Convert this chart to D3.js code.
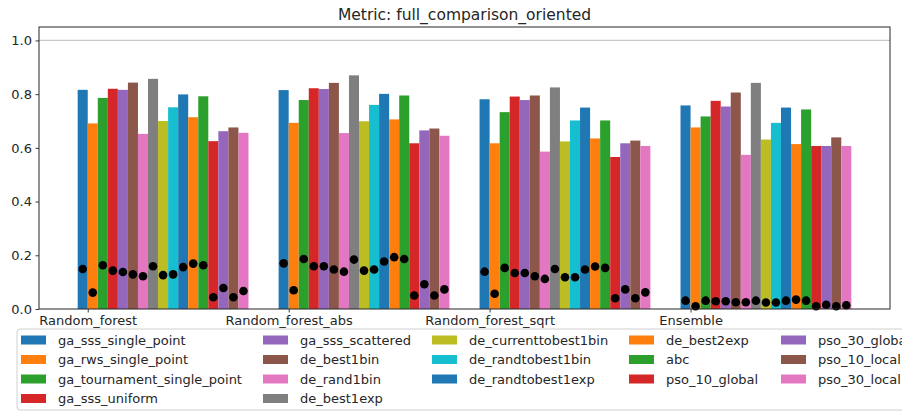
<!DOCTYPE html>
<html>
<head>
<meta charset="utf-8">
<script src="https://cdn.jsdelivr.net/npm/d3@7"></script>
<style>
  html, body { margin: 0; padding: 0; background: #fff; }
  svg { display: block; font-family: "DejaVu Sans", sans-serif; }
</style>
</head>
<body>
<svg id="chart" width="902" height="412"></svg>
<script>
// Models compared on the x axis
const categories = ["Random_forest", "Random_forest_abs", "Random_forest_sqrt", "Ensemble"];

// Optimisation methods (one bar per method in each group)
const methods = [
  "ga_sss_single_point", "ga_rws_single_point", "ga_tournament_single_point", "ga_sss_uniform",
  "ga_sss_scattered", "de_best1bin", "de_rand1bin", "de_best1exp",
  "de_currenttobest1bin", "de_randtobest1bin", "de_randtobest1exp",
  "de_best2exp", "abc", "pso_10_global",
  "pso_30_global", "pso_10_local", "pso_30_local"
];

// Bar heights: metric value per method, one array per model
const randomForest     = [0.816, 0.691, 0.786, 0.820, 0.816, 0.843, 0.652, 0.857, 0.700, 0.751, 0.799, 0.714, 0.792, 0.625, 0.662, 0.676, 0.656];
const randomForestAbs  = [0.815, 0.693, 0.778, 0.822, 0.819, 0.842, 0.655, 0.870, 0.699, 0.760, 0.801, 0.706, 0.795, 0.617, 0.665, 0.672, 0.645];
const randomForestSqrt = [0.781, 0.617, 0.733, 0.791, 0.778, 0.795, 0.586, 0.825, 0.624, 0.702, 0.750, 0.635, 0.702, 0.566, 0.617, 0.627, 0.607];
const ensemble         = [0.758, 0.676, 0.717, 0.775, 0.754, 0.806, 0.574, 0.842, 0.631, 0.693, 0.750, 0.614, 0.743, 0.607, 0.607, 0.639, 0.607];

// Black markers: spread per method, one array per model
const randomForestSpread     = [0.149, 0.061, 0.163, 0.143, 0.138, 0.129, 0.122, 0.159, 0.126, 0.129, 0.156, 0.169, 0.163, 0.044, 0.078, 0.044, 0.067];
const randomForestAbsSpread  = [0.170, 0.070, 0.186, 0.159, 0.159, 0.147, 0.139, 0.184, 0.143, 0.147, 0.177, 0.193, 0.186, 0.050, 0.092, 0.050, 0.073];
const randomForestSqrtSpread = [0.139, 0.057, 0.153, 0.134, 0.134, 0.122, 0.112, 0.149, 0.118, 0.118, 0.147, 0.158, 0.153, 0.040, 0.073, 0.040, 0.062];
const ensembleSpread         = [0.031, 0.010, 0.031, 0.029, 0.029, 0.025, 0.025, 0.031, 0.024, 0.024, 0.031, 0.035, 0.031, 0.010, 0.016, 0.010, 0.014];

const yTicks = [0.0, 0.2, 0.4, 0.6, 0.8, 1.0];

const values = [randomForest, randomForestAbs, randomForestSqrt, ensemble];
const spreads = [randomForestSpread, randomForestAbsSpread, randomForestSqrtSpread, ensembleSpread];

const palette = ["#1f77b4", "#ff7f0e", "#2ca02c", "#d62728", "#9467bd",
                 "#8c564b", "#e377c2", "#7f7f7f", "#bcbd22", "#17becf"];
const colorOf = i => palette[i % palette.length];

const svg = d3.select("#chart");
const plot = { left: 39, right: 890, top: 27, bottom: 309 };
const barW = 0.05;

const x = d3.scaleLinear().domain([-0.2425, 3.9925]).range([plot.left, plot.right]);
const y = d3.scaleLinear().domain([0, 1.05]).range([plot.bottom, plot.top]);

// Reference line at 1.0
svg.append("line")
  .attr("x1", plot.left).attr("x2", plot.right)
  .attr("y1", y(1)).attr("y2", y(1))
  .attr("stroke", "#c8c8c8").attr("stroke-width", 1.2);

// Bars
const rows = [];
values.forEach((arr, g) => arr.forEach((v, j) => rows.push({ g, j, v, s: spreads[g][j] })));

svg.append("g").selectAll("rect").data(rows).join("rect")
  .attr("x", d => x(d.g + (d.j - 1) * barW))
  .attr("width", d => x(barW) - x(0))
  .attr("y", d => y(d.v))
  .attr("height", d => y(0) - y(d.v))
  .attr("fill", d => colorOf(d.j));

// Spread markers
svg.append("g").selectAll("circle").data(rows).join("circle")
  .attr("cx", d => x(d.g + (d.j - 0.5) * barW))
  .attr("cy", d => y(d.s))
  .attr("r", 4.3)
  .attr("fill", "#000");

// Axes
const yAxis = d3.axisLeft(y).tickValues(yTicks).tickFormat(d3.format(".1f")).tickSizeOuter(0).tickSize(3.5).tickPadding(3.5);
const xAxis = d3.axisBottom(x).tickValues(d3.range(categories.length)).tickFormat(i => categories[i]).tickSizeOuter(0).tickSize(3.5).tickPadding(3.5);

const gy = svg.append("g").attr("transform", `translate(${plot.left},0)`).call(yAxis);
const gx = svg.append("g").attr("transform", `translate(0,${plot.bottom})`).call(xAxis);
[gx, gy].forEach(g => {
  g.select(".domain").remove();
  g.selectAll("text").attr("font-size", 13).attr("fill", "#262626").attr("font-family", "DejaVu Sans");
  g.selectAll("line").attr("stroke", "#262626").attr("stroke-width", 0.9);
});

// Frame
svg.append("rect")
  .attr("x", plot.left).attr("y", plot.top)
  .attr("width", plot.right - plot.left).attr("height", plot.bottom - plot.top)
  .attr("fill", "none").attr("stroke", "#262626").attr("stroke-width", 1);

// Title
svg.append("text")
  .attr("x", (plot.left + plot.right) / 2).attr("y", 19.5)
  .attr("text-anchor", "middle").attr("font-size", 15.5).attr("fill", "#262626")
  .text("Metric: full_comparison_oriented");

// Legend (column-major, 5 columns)
const colCounts = [4, 4, 3, 3, 3];
const colX = [21, 263, 432, 629, 781];
const rowY0 = 340, rowStep = 19.5;
const legendItems = [];
let k = 0;
colCounts.forEach((n, c) => {
  for (let r = 0; r < n; r++) { legendItems.push({ name: methods[k], i: k, c, r }); k++; }
});

const legend = svg.append("g");
legend.append("rect")
  .attr("x", 17).attr("y", 329).attr("width", 900).attr("height", 81)
  .attr("rx", 3).attr("fill", "#fff").attr("fill-opacity", 0.95)
  .attr("stroke", "#d0d0d0").attr("stroke-width", 1);

const li = legend.selectAll("g.item").data(legendItems).join("g")
  .attr("transform", d => `translate(${colX[d.c]},${rowY0 + d.r * rowStep})`);
li.append("rect").attr("x", 0).attr("y", -4.5).attr("width", 25).attr("height", 9).attr("fill", d => colorOf(d.i));
li.append("text").attr("x", 37).attr("y", 0).attr("dy", "0.35em")
  .attr("font-size", 13).attr("fill", "#262626").text(d => d.name);
</script>
</body>
</html>
